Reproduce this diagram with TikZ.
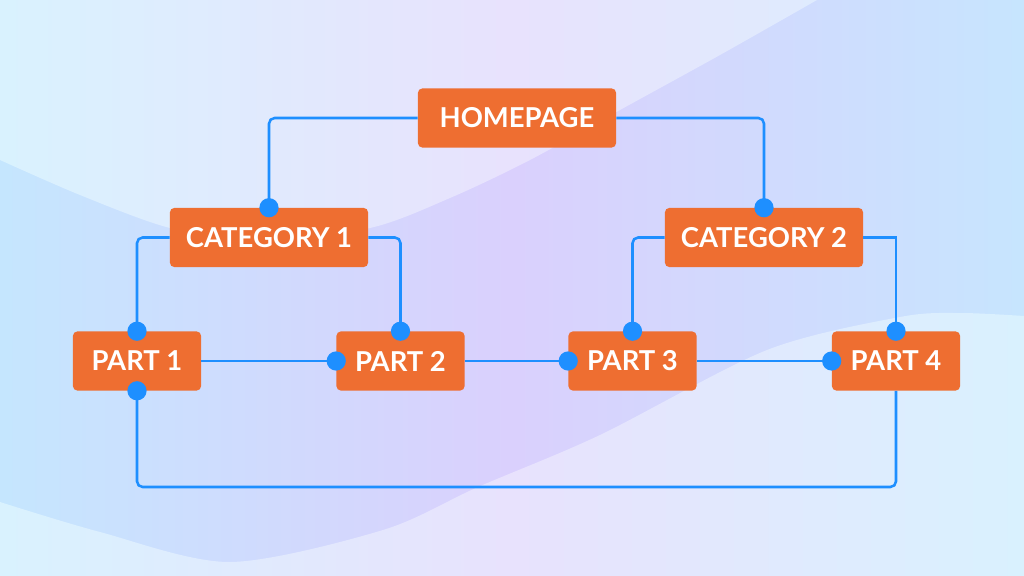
\documentclass[tikz,border=0pt]{standalone}
\usepackage{fontspec}
\setmainfont{Lato}
\definecolor{boxorange}{HTML}{EE6E31}
\definecolor{linkblue}{HTML}{1E8FFF}
\definecolor{baseL}{HTML}{D9F2FE}
\definecolor{baseM}{HTML}{E8E2FD}
\definecolor{baseR}{HTML}{D9F1FE}
\definecolor{bandL}{HTML}{C5E6FE}
\definecolor{bandM}{HTML}{DAD0FD}
\definecolor{bandR}{HTML}{C7E5FE}
\begin{document}
\begin{tikzpicture}[x=0.025cm,y=-0.025cm,
  box/.style={fill=boxorange, rounded corners=3pt, text=white,
    font=\bfseries\fontsize{19.5}{22}\selectfont, minimum height=1.475cm, inner sep=0pt},
  widebox/.style={box, minimum width=4.95cm},
  narrowbox/.style={box, minimum width=3.2cm},
  conn/.style={draw=linkblue, line width=1.8pt, rounded corners=4pt},
  dot/.style={fill=linkblue},
  bandshade/.style={left color=bandL, right color=bandR, middle color=bandM},
  baseshade/.style={left color=baseL, right color=baseR, middle color=baseM}]
\useasboundingbox (0,0) rectangle (1024,576);
% background
\shade[bandshade] (0,0) rectangle (1024,576);
\begin{scope}
  \clip plot[smooth] coordinates {(0,160) (80,195) (170,228) (260,240) (370,228) (450,198) (530,160) (620,110) (720,55) (817,0)} -- (0,0) -- cycle;
  \shade[baseshade] (0,0) rectangle (1024,576);
\end{scope}
\begin{scope}
  \clip plot[smooth] coordinates {(0,502) (100,532) (230,562) (383,530) (478,487) (600,435) (767,350) (900,317) (960,313) (1024,316)} -- (1024,576) -- (0,576) -- cycle;
  \shade[baseshade] (0,0) rectangle (1024,576);
\end{scope}
% nodes
\node[widebox] (home) at (517,118) {HOMEPAGE};
\node[widebox] (cat1) at (269,237.5) {CATEGORY 1};
\node[widebox] (cat2) at (764,237.5) {CATEGORY 2};
\node[narrowbox] (p1) at (137,361) {PART 1};
\node[narrowbox] (p2) at (400.5,361) {PART 2};
\node[narrowbox] (p3) at (632.5,361) {PART 3};
\node[narrowbox] (p4) at (896,361) {PART 4};
\coordinate (low) at (500,487);
% connectors
\draw[conn] (home.west) -| (cat1.north);
\draw[conn] (home.east) -| (cat2.north);
\draw[conn] (cat1.west) -| (p1.north);
\draw[conn] (cat1.east) -| (p2.north);
\draw[conn] (cat2.west) -| (p3.north);
\draw[conn, sharp corners] (cat2.east) -| (p4.north);
\draw[conn] (p1.east) -- (p2.west);
\draw[conn] (p2.east) -- (p3.west);
\draw[conn] (p3.east) -- (p4.west);
\draw[conn] (p1.south) -- (p1.south |- low) -- (p4.south |- low) -- (p4.south);
% dots
\foreach \a in {cat1.north, cat2.north, p1.north, p2.north, p3.north, p4.north, p2.west, p3.west, p4.west, p1.south}
  \fill[dot] (\a) circle[radius=0.24cm];
\end{tikzpicture}
\end{document}
